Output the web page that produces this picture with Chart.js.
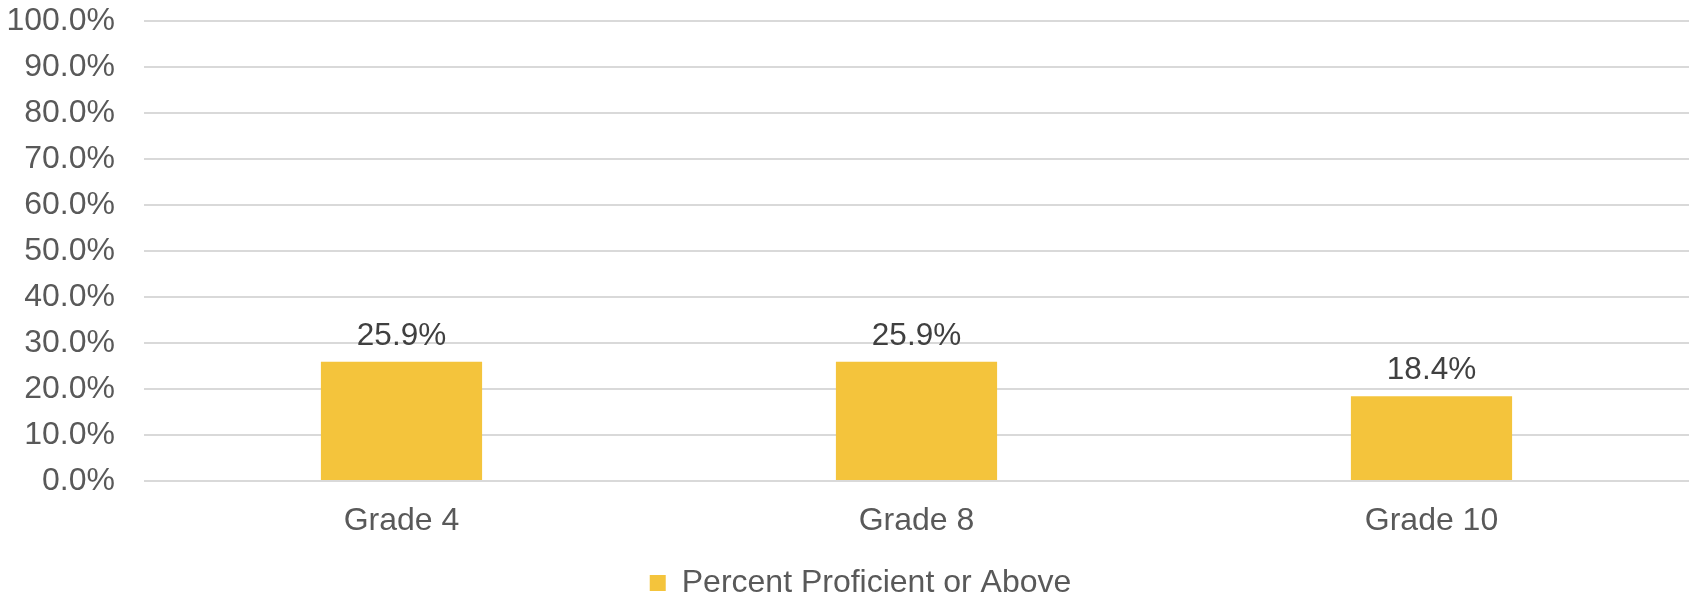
<!DOCTYPE html>
<html>
<head>
<meta charset="utf-8">
<script src="https://cdn.jsdelivr.net/npm/chart.js@4.4.0/dist/chart.umd.js"></script>
<style>
  html, body { margin: 0; padding: 0; background: #fff; }
  #wrap { width: 1694px; height: 592px; }
</style>
</head>
<body>
<div id="wrap"><canvas id="chart"></canvas></div>
<script>
const categories = ['Grade 4', 'Grade 8', 'Grade 10'];
const seriesName = 'Percent Proficient or Above';
const proficient = [25.9, 25.9, 18.4];
const yTicks = [0, 10, 20, 30, 40, 50, 60, 70, 80, 90, 100];

const FONT = '"Liberation Sans", Arial, sans-serif';
const BAR = '#F4C43C';

// value labels over each bar, placed from the bar elements
const barLabels = {
    id: 'barLabels',
    afterDatasetsDraw(chart) {
        const ctx = chart.ctx;
        ctx.save();
        ctx.font = '31.5px ' + FONT;
        ctx.fillStyle = '#404040';
        ctx.textAlign = 'center';
        ctx.textBaseline = 'alphabetic';
        chart.getDatasetMeta(0).data.forEach((bar, i) => {
            ctx.fillText(proficient[i].toFixed(1) + '%', bar.x, bar.y - 17);
        });
        ctx.restore();
    }
};

// legend sits a little right of the canvas centre in the original
const legendShift = {
    id: 'legendShift',
    afterLayout(chart) { chart.legend.left += 32; }
};

new Chart(document.getElementById('chart'), {
    type: 'bar',
    data: {
        labels: categories,
        datasets: [{
            label: seriesName,
            data: proficient,
            backgroundColor: BAR,
            borderWidth: 0,
            categoryPercentage: 1,
            barPercentage: 0.313
        }]
    },
    options: {
        responsive: true,
        maintainAspectRatio: false,
        animation: false,
        layout: { padding: { left: 0, right: 5, top: 21, bottom: -17 } },
        plugins: {
            legend: {
                position: 'bottom',
                labels: { font: { family: FONT, size: 32 }, color: '#595959', boxWidth: 16, boxHeight: 16, padding: 10 }
            },
            tooltip: { enabled: false }
        },
        scales: {
            x: {
                afterFit: (s) => { s.height = 76; },
                grid: { display: false, drawTicks: false },
                border: { display: false },
                ticks: { font: { family: FONT, size: 32 }, color: '#595959', padding: 21 }
            },
            y: {
                min: 0,
                max: 100,
                afterBuildTicks: (s) => { s.ticks = yTicks.map((v) => ({ value: v })); },
                afterFit: (s) => { s.width = 144; s.paddingTop = 0; s.paddingBottom = 0; },
                grid: { color: '#D9D9D9', lineWidth: 2, drawTicks: false },
                border: { display: false },
                ticks: { font: { family: FONT, size: 32 }, color: '#595959', padding: 29,
                         callback: (v) => v.toFixed(1) + '%' }
            }
        }
    },
    plugins: [barLabels, legendShift]
});
</script>
</body>
</html>
